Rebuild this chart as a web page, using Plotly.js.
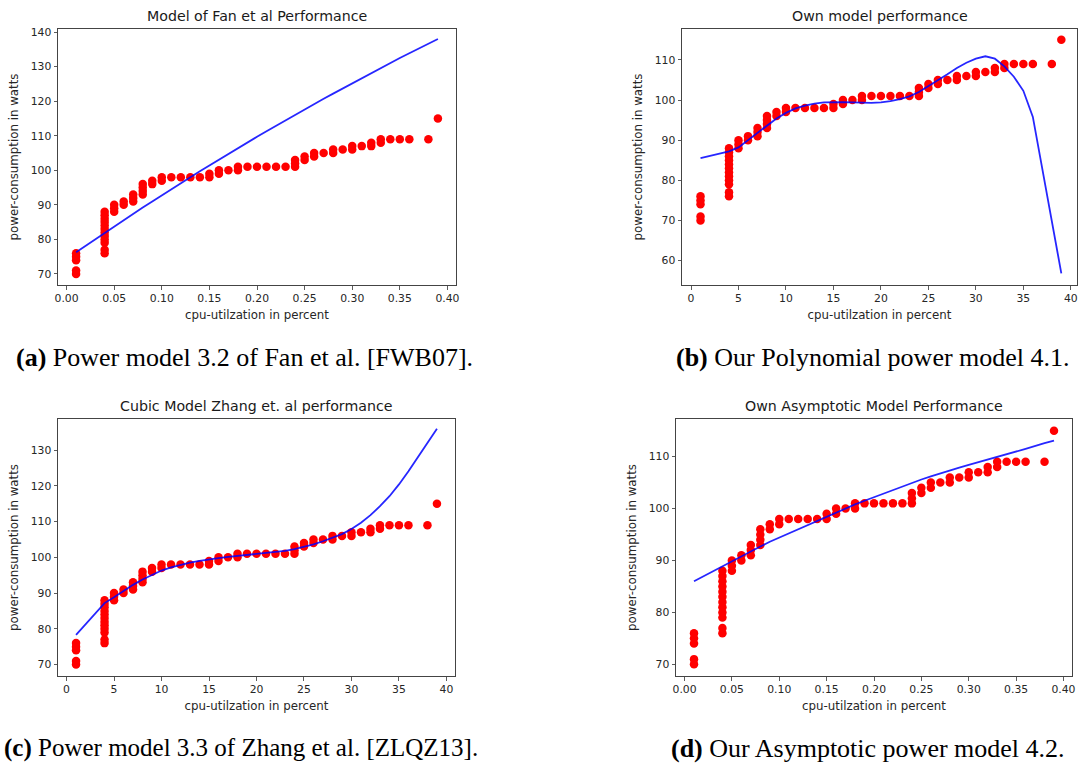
<!DOCTYPE html>
<html>
<head>
<meta charset="utf-8">
<script src="https://cdn.plot.ly/plotly-3.0.1.min.js"></script>
<style>
  html, body { margin: 0; padding: 0; background: #ffffff; }
  #chart { width: 1078px; height: 763px; }
</style>
</head>
<body>
<div id="chart"></div>
<script>
// ---------------- data ----------------
// CPU utilisation levels (percent) and the same levels as a fraction
const cpuPct  = [1, 4, 5, 6, 7, 8, 9, 10, 11, 12, 13, 14, 15, 16, 17, 18, 19, 20,
                 21, 22, 23, 24, 25, 26, 27, 28, 29, 30, 31, 32, 33, 34, 35, 36, 38, 39];
const cpuFrac = [0.01, 0.04, 0.05, 0.06, 0.07, 0.08, 0.09, 0.10, 0.11, 0.12, 0.13, 0.14,
                 0.15, 0.16, 0.17, 0.18, 0.19, 0.20, 0.21, 0.22, 0.23, 0.24, 0.25, 0.26,
                 0.27, 0.28, 0.29, 0.30, 0.31, 0.32, 0.33, 0.34, 0.35, 0.36, 0.38, 0.39];

// measured power (watts) at each utilisation level
const measuredPower = [
  [70, 71, 74, 75, 76],
  [76, 77, 79, 80, 81, 82, 83, 84, 85, 86, 87, 88],
  [88, 89, 90],
  [90, 91],
  [91, 92, 93],
  [93, 94, 95, 96],
  [96, 97],
  [97, 98],
  [98], [98], [98], [98],
  [98, 99],
  [99, 100],
  [100],
  [100, 101],
  [101], [101], [101], [101], [101],
  [101, 102, 103],
  [103, 104],
  [104, 105],
  [105],
  [105, 106],
  [106],
  [106, 107],
  [107],
  [107, 108],
  [108, 109],
  [109], [109], [109], [109],
  [115]
];

// model predictions (watts) at each utilisation level
const fanModel   = [76.3, 81.9, 83.8, 85.6, 87.4, 89.2, 91.0, 92.8, 94.5, 96.3, 98.0, 99.7,
                    101.4, 103.1, 104.8, 106.4, 108.1, 109.7, 111.3, 112.9, 114.5, 116.1,
                    117.6, 119.2, 120.7, 122.2, 123.7, 125.2, 126.7, 128.2, 129.6, 131.0,
                    132.5, 133.9, 136.6, 138.0];
const polyModel  = [85.5, 87.2, 88.2, 90.0, 91.9, 93.6, 95.4, 96.8, 97.9, 98.6, 99.1, 99.4,
                    99.5, 99.5, 99.4, 99.3, 99.3, 99.4, 99.7, 100.2, 100.9, 102.0, 103.4,
                    104.8, 106.4, 108.0, 109.3, 110.3, 110.9, 110.3, 108.4, 105.8, 102.3,
                    95.8, 69.6, 56.8];
const cubicModel = [78.3, 87.2, 88.8, 90.6, 92.3, 93.8, 95.1, 96.3, 97.2, 97.9, 98.5, 99.0,
                    99.5, 99.8, 100.1, 100.4, 100.6, 100.9, 101.1, 101.4, 101.8, 102.3,
                    102.9, 103.6, 104.5, 105.4, 106.5, 107.9, 109.7, 111.8, 114.3, 117.1,
                    120.4, 124.1, 132.0, 136.0];
const asymModel  = [86.0, 88.9, 89.9, 90.8, 91.8, 92.7, 93.6, 94.4, 95.3, 96.1, 96.9, 97.7,
                    98.5, 99.3, 100.1, 100.8, 101.5, 102.2, 102.9, 103.6, 104.3, 104.9,
                    105.6, 106.2, 106.8, 107.3, 107.9, 108.4, 108.9, 109.5, 110.0, 110.5,
                    111.0, 111.5, 112.6, 113.1];

const panelTitles = ["Model of Fan et al Performance", "Own model performance",
                     "Cubic Model Zhang et. al performance", "Own Asymptotic Model Performance"];
const captions = ["<b>(a)</b> Power model 3.2 of Fan et al. [FWB07].",
                  "<b>(b)</b> Our Polynomial power model 4.1.",
                  "<b>(c)</b> Power model 3.3 of Zhang et al. [ZLQZ13].",
                  "<b>(d)</b> Our Asymptotic power model 4.2."];
const xTitle = "cpu-utilzation in percent";
const yTitle = "power-consumption in watts";

// ---------------- build ----------------
function flatten(xs) {
  const X = [], Y = [];
  measuredPower.forEach((vals, i) => vals.forEach(v => { X.push(xs[i]); Y.push(v); }));
  return {X, Y};
}

const panels = [
  {xs: cpuFrac, model: fanModel,   ax: ""},
  {xs: cpuPct,  model: polyModel,  ax: "2"},
  {xs: cpuPct,  model: cubicModel, ax: "3"},
  {xs: cpuFrac, model: asymModel,  ax: "4"}
];

const traces = [];
panels.forEach(p => {
  const m = flatten(p.xs);
  traces.push({
    type: "scatter", mode: "markers", x: m.X, y: m.Y,
    xaxis: "x" + p.ax, yaxis: "y" + p.ax,
    marker: {color: "#ff0000", size: 8.5, line: {width: 0}},
    hoverinfo: "x+y", showlegend: false
  });
  traces.push({
    type: "scatter", mode: "lines", x: p.xs, y: p.model,
    xaxis: "x" + p.ax, yaxis: "y" + p.ax,
    line: {color: "rgba(0,0,255,0.85)", width: 1.8},
    hoverinfo: "x+y", showlegend: false
  });
});

const W = 1078, H = 763;
const fx = px => px / W;
const fy = py => (H - py) / H;

const tickFont = {family: "DejaVu Sans", size: 10.8, color: "#262626"};
const titleFont = {family: "DejaVu Sans", size: 11.8, color: "#262626"};

function xAxis(domain, range, dtick, fmt, anchor) {
  return {
    domain: domain, range: range, anchor: anchor,
    tick0: 0, dtick: dtick, tickformat: fmt,
    ticks: "outside", ticklen: 3.5, tickwidth: 0.8, tickcolor: "#333",
    showline: true, linecolor: "#444", linewidth: 1, mirror: true,
    showgrid: false, zeroline: false, tickfont: tickFont,
    title: {text: xTitle, font: titleFont, standoff: 6}
  };
}
function yAxis(domain, range, tick0, anchor) {
  return {
    domain: domain, range: range, anchor: anchor,
    tick0: tick0, dtick: 10,
    ticks: "outside", ticklen: 3.5, tickwidth: 0.8, tickcolor: "#333",
    showline: true, linecolor: "#444", linewidth: 1, mirror: true,
    showgrid: false, zeroline: false, tickfont: tickFont,
    title: {text: yTitle, font: titleFont, standoff: 9}
  };
}

const dom = {
  a: {x: [fx(58), fx(456)],   y: [fy(285), fy(29)]},
  b: {x: [fx(682), fx(1077)], y: [fy(285), fy(29)]},
  c: {x: [fx(58), fx(455)],   y: [fy(676), fy(419)]},
  d: {x: [fx(676), fx(1072)], y: [fy(676), fy(419)]}
};

const layout = {
  width: W, height: H,
  margin: {l: 0, r: 0, t: 0, b: 0},
  paper_bgcolor: "#ffffff", plot_bgcolor: "#ffffff",
  showlegend: false,
  xaxis:  xAxis(dom.a.x, [-0.009, 0.409], 0.05, ".2f", "y"),
  yaxis:  yAxis(dom.a.y, [66.8, 140.9], 70, "x"),
  xaxis2: xAxis(dom.b.x, [-0.95, 40.65], 5, "d", "y2"),
  yaxis2: yAxis(dom.b.y, [53.9, 117.7], 60, "x2"),
  xaxis3: xAxis(dom.c.x, [-0.9, 40.9], 5, "d", "y3"),
  yaxis3: yAxis(dom.c.y, [66.8, 138.7], 70, "x3"),
  xaxis4: xAxis(dom.d.x, [-0.009, 0.409], 0.05, ".2f", "y4"),
  yaxis4: yAxis(dom.d.y, [67.75, 117.25], 70, "x4"),
  annotations: []
};

const doms = [dom.a, dom.b, dom.c, dom.d];
doms.forEach((d, i) => {
  layout.annotations.push({
    text: panelTitles[i], xref: "paper", yref: "paper",
    x: (d.x[0] + d.x[1]) / 2, y: d.y[1], xanchor: "center", yanchor: "bottom",
    yshift: 3, showarrow: false,
    font: {family: "DejaVu Sans", size: 14.2, color: "#1a1a1a"}
  });
});
const capPos = [[244, 357, 26], [873, 357, 26], [241, 748, 25], [868, 748, 26]];
capPos.forEach((p, i) => {
  layout.annotations.push({
    text: captions[i], xref: "paper", yref: "paper",
    x: fx(p[0]), y: fy(p[1]), xanchor: "center", yanchor: "middle",
    showarrow: false,
    font: {family: "Liberation Serif, Times New Roman, serif", size: p[2], color: "#000"}
  });
});

Plotly.newPlot("chart", traces, layout, {displayModeBar: false, staticPlot: true});
</script>
</body>
</html>
